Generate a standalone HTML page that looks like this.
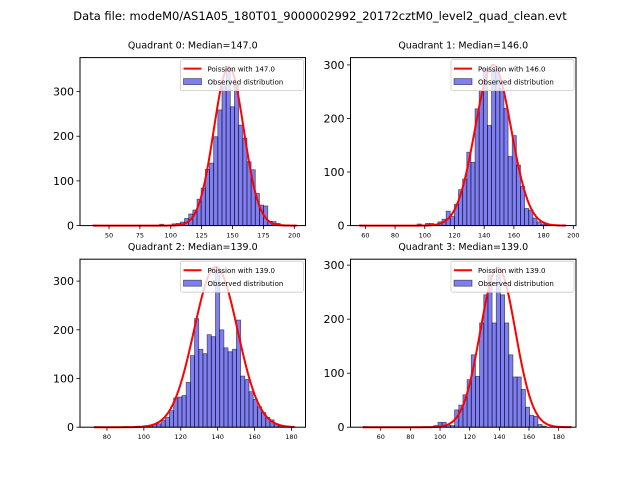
<!DOCTYPE html>
<html><head><meta charset="utf-8"><style>
body{margin:0;background:#fff;}
svg{display:block;font-family:"DejaVu Sans","Liberation Sans",sans-serif;}
</style></head><body>
<svg id="fig" width="640" height="480" xmlns="http://www.w3.org/2000/svg">
<text x="320" y="20" font-size="11.5" text-anchor="middle">Data file: modeM0/AS1A05_180T01_9000002992_20172cztM0_level2_quad_clean.evt</text>
</svg>
<script>
// Quadrant 0
const q0Counts = [1,0,0,0,0,0,0,0,0,0,0,0,0,0,0,0,3,0,0,4,5,8,16,26,35,59,84,126,140,199,259,311,355,266,315,225,196,143,125,72,46,44,10,9,5,2,0,0,1];
// Quadrant 1
const q1Counts = [1,0,0,0,0,0,0,0,0,0,0,0,0,0,3,0,4,4,0,7,12,27,17,40,67,87,137,118,218,253,294,187,290,297,256,219,129,168,113,73,32,29,14,7,3,2,1,0,0,1];
// Quadrant 2
const q2Counts = [1,0,0,0,0,0,0,0,0,0,2,0,3,4,5,7,14,20,34,60,62,65,92,147,223,160,151,190,186,322,200,163,155,160,220,105,98,73,57,42,30,20,15,7,3,2,1,1];
// Quadrant 3
const q3Counts = [1,0,0,0,0,0,0,0,0,0,0,0,0,0,0,0,0,3,9,9,4,3,32,41,60,88,134,94,193,245,282,193,282,245,193,134,93,93,70,37,22,20,5,2,0,0,0,0,0,1];
const binMins = [37, 56, 73, 48];
const binWidths = [3.37, 2.78, 2.27, 2.81];
const medians = [147.0, 146.0, 139.0, 139.0];
const curvePeaks = [355, 300, 329, 295];
const xTicks = [[50,75,100,125,150,175,200],[60,80,100,120,140,160,180,200],[80,100,120,140,160,180],[60,80,100,120,140,160,180]];
const yTicks = [[0,100,200,300],[0,100,200,300],[0,100,200,300],[0,100,200,300]];
const xLims = [[26.5,209.1],[50,201.8],[65.4,187.6],[39.6,191.7]];
const yMaxs = [376, 313.6, 345, 311];

const counts = [q0Counts,q1Counts,q2Counts,q3Counts];
const boxes = [[80,57.6],[350.5,57.6],[80,259.2],[350.5,259.2]];
const W = 225.5, H = 168;
const svg = document.getElementById('fig');
const NS = 'http://www.w3.org/2000/svg';
function mk(tag, attrs, parent){const e=document.createElementNS(NS,tag);for(const k in attrs)e.setAttribute(k,attrs[k]);(parent||svg).appendChild(e);return e;}

for (let q=0;q<4;q++){
  const [ax,ay]=boxes[q];
  const [x0,x1]=xLims[q];
  const X=v=>ax+(v-x0)/(x1-x0)*W;
  const Y=v=>ay+H-v/yMaxs[q]*H;
  const g=mk('g',{});
  
  
  const t=mk('text',{x:ax+W/2,y:ay-9,'font-size':9.5,'text-anchor':'middle'},g);
  t.textContent='Quadrant '+q+': Median='+medians[q].toFixed(1);
  
  
  const c=counts[q];
  for(let i=0;i<c.length;i++){
    if(!c[i]) continue;
    const l=binMins[q]+i*binWidths[q];
    const r=mk('rect',{x:X(l),y:Y(c[i]),width:X(l+binWidths[q])-X(l),height:Y(0)-Y(c[i]),fill:'rgba(0,0,230,0.5)',stroke:'rgba(0,0,0,0.55)','stroke-width':0.8},g);
    
    
  }
  const lam=medians[q];
  const xs=binMins[q], xe=binMins[q]+c.length*binWidths[q];
  let d='';
  for(let v=xs;v<=xe;v+=0.5){
    const p=curvePeaks[q]*Math.exp(-(v-lam)*(v-lam)/(2*lam));
    d+=(d?'L':'M')+X(v).toFixed(2)+','+Y(p).toFixed(2);
  }
  const pl=mk('path',{d:d,fill:'none',stroke:'#f00','stroke-width':2},g);
  
  
  const fr=mk('rect',{x:ax,y:ay,width:W,height:H,fill:'none',stroke:'#000','stroke-width':1},g);
  
  
  for(const v of xTicks[q]){
    mk('line',{x1:X(v),x2:X(v),y1:ay+H,y2:ay+H+3.5,stroke:'#000','stroke-width':0.8},g);
    const tl=mk('text',{x:X(v),y:ay+H+12,'font-size':6.5,'text-anchor':'middle'},g);
    tl.textContent=v;
    
    
  }
  for(const v of yTicks[q]){
    mk('line',{x1:ax-3.5,x2:ax,y1:Y(v),y2:Y(v),stroke:'#000','stroke-width':0.8},g);
    const tl=mk('text',{x:ax-6,y:Y(v)+4,'font-size':11,'text-anchor':'end'},g);
    tl.textContent=v;
    
    
  }
  const lg=mk('g',{},g);
  
  
  const lx=ax+W-125, ly=ay+2;
  mk('rect',{x:lx,y:ly,width:123,height:31,rx:2,fill:'rgba(255,255,255,0.8)',stroke:'#ccc','stroke-width':0.8},lg);
  mk('line',{x1:lx+3,x2:lx+21,y1:ly+9,y2:ly+9,stroke:'#f00','stroke-width':2},lg);
  const l1=mk('text',{x:lx+27,y:ly+12,'font-size':7},lg);
  l1.textContent='Poission with '+lam.toFixed(1);
  
  
  mk('rect',{x:lx+3,y:ly+19,width:18,height:6,fill:'rgba(0,0,230,0.5)',stroke:'rgba(0,0,0,0.55)','stroke-width':0.8},lg);
  const l2=mk('text',{x:lx+27,y:ly+25,'font-size':7},lg);
  l2.textContent='Observed distribution';
  
  
}
</script>
</body></html>
